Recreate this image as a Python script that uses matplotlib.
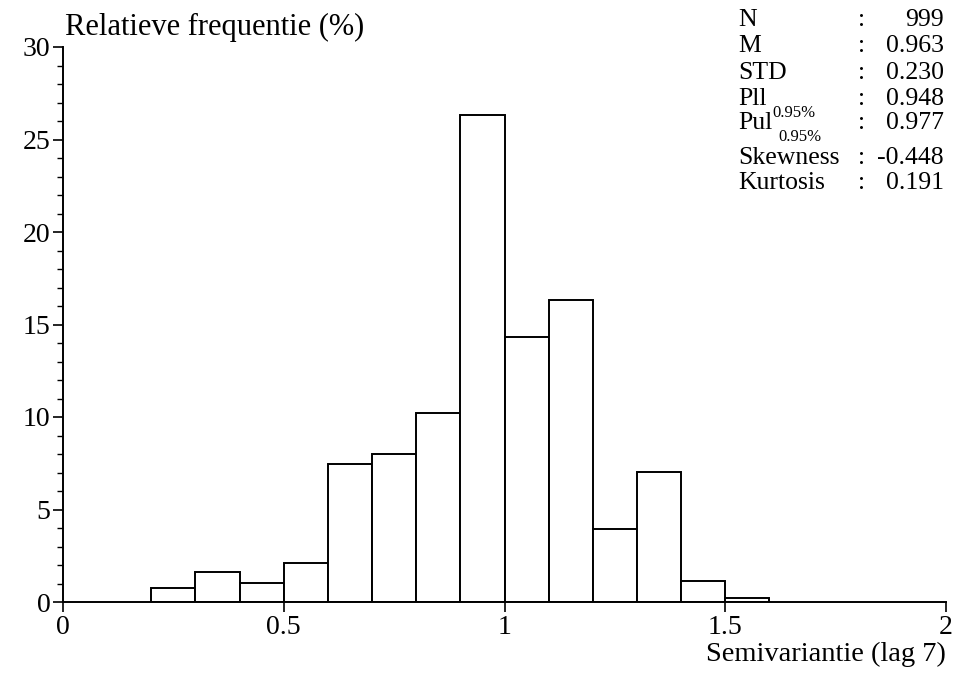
import matplotlib
matplotlib.use("Agg")
import matplotlib.pyplot as plt
from matplotlib.ticker import MultipleLocator

plt.rcParams['font.family'] = ['Liberation Serif', 'DejaVu Serif']

# Histogram of semivariance (lag 7), bin width 0.1
bin_left = [0.2, 0.3, 0.4, 0.5, 0.6, 0.7, 0.8, 0.9, 1.0, 1.1, 1.2, 1.3, 1.4, 1.5]
rel_freq = [0.76, 1.64, 1.04, 2.12, 7.44, 7.98, 10.2, 26.3, 14.3, 16.3, 3.95, 7.01, 1.14, 0.22]
bin_width = 0.1

x_ticks = [0, 0.5, 1, 1.5, 2]
x_tick_labels = ['0', '0.5', '1', '1.5', '2']
y_ticks = [0, 5, 10, 15, 20, 25, 30]

stat_names = ['N', 'M', 'STD', 'Pll', 'Pul', 'Skewness', 'Kurtosis']
stat_subs = ['', '', '', '0.95%', '0.95%', '', '']
stat_values = ['999', '0.963', '0.230', '0.948', '0.977', '-0.448', '0.191']

W, H = 956, 680
fig = plt.figure(figsize=(W / 100, H / 100), dpi=100)
ax = fig.add_axes([63 / W, 1 - 602 / H, (946 - 63) / W, (602 - 47) / H])

ax.bar(bin_left, rel_freq, width=bin_width, align='edge',
       facecolor='white', edgecolor='black', linewidth=1.4, zorder=2)

ax.set_xlim(0, 2)
ax.set_ylim(0, 30)
ax.set_xticks(x_ticks)
ax.set_xticklabels(x_tick_labels)
ax.set_yticks(y_ticks)
ax.yaxis.set_minor_locator(MultipleLocator(1))

for side in ['top', 'right']:
    ax.spines[side].set_visible(False)
for side in ['left', 'bottom']:
    ax.spines[side].set_linewidth(1.4)
    ax.spines[side].set_zorder(3)

ax.tick_params(axis='both', which='major', direction='out', length=7,
               width=1.2, labelsize=20, pad=2)
ax.tick_params(axis='y', which='minor', direction='out', length=4, width=1)


def fx(px):
    return px / W


def fy(py):
    return 1 - py / H


fig.text(fx(65), fy(27), 'Relatieve frequentie (%)', fontsize=22,
         ha='left', va='center')
fig.text(fx(946), fy(654), 'Semivariantie (lag 7)', fontsize=20.5,
         ha='right', va='center')

# Summary statistics block
renderer = fig.canvas.get_renderer()
row_y = [20, 46.5, 73, 99, 123, 158, 183]
for y, name, sub, val in zip(row_y, stat_names, stat_subs, stat_values):
    t = fig.text(fx(738), fy(y), name, fontsize=18.5, ha='left', va='center')
    if sub:
        right_px = t.get_window_extent(renderer).x1
        fig.text(fx(right_px + 6), fy(y + 14), sub, fontsize=12,
                 ha='left', va='center')
    fig.text(fx(862), fy(y), ':', fontsize=18.5, ha='center', va='center')
    fig.text(fx(944), fy(y), val, fontsize=18.5, ha='right', va='center')

fig.savefig('out.png', dpi=100)
